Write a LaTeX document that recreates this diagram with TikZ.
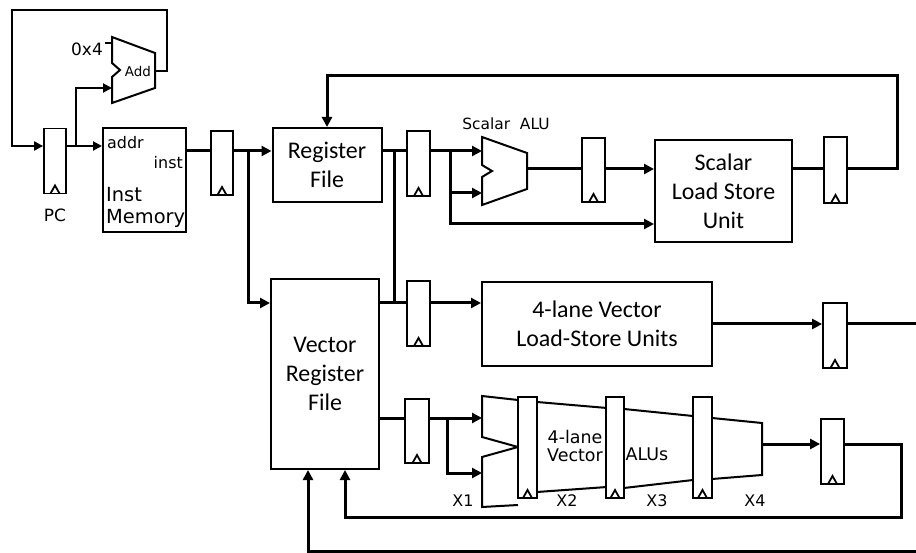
\documentclass[tikz,border=0pt]{standalone}
\usepackage{fontspec}
\setmainfont{Carlito}
\newfontfamily\labelfont{DejaVu Sans}
\usetikzlibrary{arrows.meta, positioning, calc}
\tikzset{
  regbox/.style={
    rectangle, draw, line width=1.8bp, fill=white, inner sep=0pt,
    minimum width=#1, minimum height=65bp,
    path picture={
      \draw[line width=1.8bp]
        ([xshift=-4.5bp]path picture bounding box.south) --
        ([yshift=8bp]path picture bounding box.south) --
        ([xshift=4.5bp]path picture bounding box.south);
    }
  },
  regbox/.default=23bp,
  stagereg/.style={regbox=19bp, minimum height=101bp},
  unitbox/.style={
    rectangle, draw, line width=2bp, fill=white, inner sep=0pt,
    align=center, font=\fontsize{24}{29}\selectfont
  },
  datawire/.style={line width=3bp},
  datarrow/.style={datawire, -{Triangle[length=10bp,width=10bp]}},
  thinwire/.style={line width=2bp},
  thinarrow/.style={thinwire, -{Triangle[length=9bp,width=9bp]}},
  smalltext/.style={font=\labelfont\fontsize{17}{20}\selectfont, inner sep=0pt},
  stagetext/.style={font=\labelfont\fontsize{16}{18}\selectfont, inner sep=0pt},
  alushape/.style={line width=2bp, line join=miter},
}

\begin{document}
\begin{tikzpicture}[x=1bp,y=-1bp]
    \useasboundingbox (0,0) rectangle (916,553);
    % rows and forks
    \coordinate (rowA)  at (0,151);
    \coordinate (rowB)  at (0,193);
    \coordinate (rowC)  at (0,224);
    \coordinate (rowV1) at (0,303);
    \coordinate (rowV2) at (0,418);
    \coordinate (rowV2b)at (0,473);
    % fetch
    \draw[alushape] (112,37) -- (155,53) -- (155,88) -- (112,103) -- (112,77)
                    -- (120,70) -- (112,63) -- cycle;
    \coordinate (add-w) at (112,70);
    \coordinate (add-e) at (155,71);
    \coordinate (addin) at (112,88);
    \coordinate (addc)  at (112,43);
    \coordinate (fourtick) at (105,43);
    \node[smalltext,font=\labelfont\fontsize{13.5}{15}\selectfont] (addlbl) at (138,71) {Add};
    \node[smalltext] (four) at (87,49) {0x4};
    \node[regbox=22bp] (pc) at (55,161) {};
    \node[smalltext] (pclbl) at (55,215) {PC};
    \node[unitbox, minimum width=83bp, minimum height=104bp] (imem) at (144.5,180) {};
    \node[smalltext, font=\labelfont\fontsize{16}{18}\selectfont, anchor=base west] (addr) at (107,149) {addr};
    \node[smalltext, font=\labelfont\fontsize{16}{18}\selectfont, anchor=base east] (inst) at (183,169) {inst};
    \node[smalltext, font=\labelfont\fontsize{19.5}{22}\selectfont, anchor=base west] (imem1) at (106,202) {Inst};
    \node[smalltext, font=\labelfont\fontsize{19.5}{22}\selectfont, anchor=base west] (imem2) at (106,224) {Memory};
    \coordinate (loopNE) at (167,10);
    \coordinate (loopSW) at (12,146);
    \coordinate (pcfork) at (76,146);
    \draw[thinarrow] (add-e) -| (loopNE) -| (loopSW) -- (pc.west |- loopSW);
    \draw[thinarrow] (pc.east |- pcfork) -- (imem.west |- pcfork);
    \draw[thinarrow] (pcfork) |- (addin);
    \draw[thinwire] (fourtick) -- (addc);
    % decode
    \node[regbox=22bp, minimum height=64bp] (ir) at (222,163) {};
    \node[unitbox, minimum width=109bp, minimum height=74bp] (rf) at (327,165) {Register\\File};
    \node[unitbox, minimum width=108bp, minimum height=190bp] (vrf) at (325,374) {Vector\\Register\\File};
    \coordinate (irfork) at (248,151);
    \coordinate (rffork) at (394,151);
    \draw[datawire] (imem.east |- rowA) -- (ir.west |- rowA);
    \draw[datarrow] (ir.east |- rowA) -- (rf.west |- rowA);
    \draw[datarrow] (irfork) |- (vrf.west |- rowV1);
    % scalar pipe
    \node[regbox] (rs) at (418.5,163.5) {};
    \draw[alushape] (482,137) -- (527,153) -- (527,189) -- (482,205) -- (482,177)
                    -- (492,171) -- (482,165) -- cycle;
    \coordinate (salu-w) at (482,171);
    \coordinate (salu-e) at (527,169);
    \node[smalltext, font=\labelfont\fontsize{15.5}{18}\selectfont, anchor=base] (salulbl) at (506,130) {Scalar~ ALU};
    \node[regbox, minimum height=64bp] (ra) at (593.5,170) {};
    \node[unitbox, minimum width=137bp, minimum height=102bp] (slsu) at (723.5,191) {Scalar\\Load Store\\Unit};
    \node[regbox, minimum height=66bp] (rl) at (835.5,170) {};
    \coordinate (rsfork) at (450,151);
    \coordinate (topNE) at (897,76);
    \draw[datawire] (rf.east |- rowA) -- (rs.west |- rowA);
    \draw[datawire] (rffork) -- (rffork |- rowV1);
    \draw[datarrow] (rs.east |- rowA) -- (salu-w |- rowA);
    \draw[datarrow] (rsfork) |- (salu-w |- rowB);
    \draw[datarrow] (rsfork) |- (slsu.west |- rowC);
    \draw[datawire] (salu-e) -- (ra.west |- salu-e);
    \draw[datarrow] (ra.east |- salu-e) -- (slsu.west |- salu-e);
    \draw[datawire] (slsu.east |- salu-e) -- (rl.west |- salu-e);
    \draw[datarrow] (rl.east |- salu-e) -| (topNE) -| (rf.north);
    % vector load-store
    \node[regbox] (rv1) at (418.5,313.5) {};
    \node[unitbox, minimum width=230bp, minimum height=84bp] (vlsu) at (597,324) {4-lane Vector\\Load-Store Units};
    \node[regbox=24bp] (rv2) at (835,335.5) {};
    \coordinate (outR) at (916,324);
    \draw[datawire] (vrf.east |- rowV1) -- (rv1.west |- rowV1);
    \draw[datarrow] (rv1.east |- rowV1) -- (vlsu.west |- rowV1);
    \draw[datarrow] (vlsu.east) -- (rv2.west |- vlsu.east);
    \draw[datawire] (rv2.east |- vlsu.east) -- (outR);
    % vector alus
    \draw[alushape] (518,400) -- (482,396) -- (482,437) -- (518,447) -- (482,457)
                    -- (482,507) -- (518,505);
    \draw[alushape] (537,402) -- (607,408) (537,492) -- (607,487);
    \draw[alushape] (624,409) -- (693,416) (624,488) -- (693,480);
    \draw[alushape] (712,418) -- (762,423) -- (762,475) -- (712,479);
    \node[stagereg] (x1x2) at (527.5,447.5) {};
    \node[stagereg, minimum width=18bp] (x2x3) at (615,447.5) {};
    \node[stagereg] (x3x4) at (702.5,447.5) {};
    \coordinate (valu-w) at (482,447);
    \coordinate (valu-e) at (762,444);
    \node[smalltext, font=\labelfont\fontsize{17.5}{19}\selectfont, align=center] (valulbl) at (575,446) {4-lane\\Vector};
    \node[smalltext, font=\labelfont\fontsize{17.5}{19}\selectfont, anchor=base] (alus) at (647,460) {ALUs};
    \node[stagetext] (sx1) at (463,501) {X1};
    \node[stagetext] (sx2) at (567,501) {X2};
    \node[stagetext] (sx3) at (657,501) {X3};
    \node[stagetext] (sx4) at (755,501) {X4};
    \node[regbox=24bp, minimum height=64bp] (rv3) at (417,431) {};
    \node[regbox] (rv4) at (832.5,451.5) {};
    \coordinate (rv3fork) at (447,418);
    \coordinate (fbNE) at (901,517);
    \coordinate (outB) at (916,551);
    \draw[datawire] (vrf.east |- rowV2) -- (rv3.west |- rowV2);
    \draw[datarrow] (rv3.east |- rowV2) -- (valu-w |- rowV2);
    \draw[datarrow] (rv3fork) |- (valu-w |- rowV2b);
    \draw[datarrow] (valu-e) -- (rv4.west |- valu-e);
    \draw[datarrow] (rv4.east |- valu-e) -| (fbNE) -| ([xshift=20bp]vrf.south);
    \draw[datarrow] (outB) -| ([xshift=-17bp]vrf.south);
  \end{tikzpicture}
\end{document}
